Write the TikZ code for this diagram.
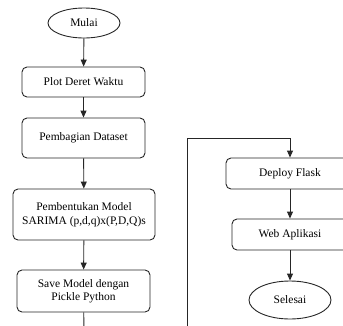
\documentclass[tikz,border=0pt]{standalone}
\usepackage{fontspec}
\setmainfont{Liberation Serif}
\usetikzlibrary{arrows.meta,shapes.geometric}
\begin{document}
\begin{tikzpicture}[x=1pt,y=-1pt,
  flow/.style={draw=black!85,line width=0.9pt,-{Triangle[length=7pt,width=6pt]}},
  link/.style={draw=black!85,line width=0.9pt},
  procbox/.style={draw=black!85,line width=0.9pt,rounded corners=5pt,align=center,
    inner sep=0pt,font=\fontsize{11.5}{13.5}\selectfont},
  terminal/.style={draw=black!85,line width=0.9pt,ellipse,inner sep=0pt,
    font=\fontsize{11.5}{13.5}\selectfont}]
\useasboundingbox (0,0) rectangle (343,325);
\clip (0,0) rectangle (343,325);

% left column
\node[terminal,minimum width=72pt,minimum height=30pt] (mulai) at (84,23) {Mulai};
\node[procbox,minimum width=123pt,minimum height=30pt] (plot) at (83.5,82) {Plot Deret Waktu};
\node[procbox,minimum width=123pt,minimum height=40pt] (bagi) at (83.5,138) {Pembagian Dataset};
\node[procbox,minimum width=142pt,minimum height=51pt] (model) at (84,214.5) {Pembentukan Model\\SARIMA (p,d,q)x(P,D,Q)s};
\node[procbox,minimum width=133pt,minimum height=42pt] (save) at (83.5,291) {Save Model dengan\\Pickle Python};
\coordinate (downL) at (84,335);

% right column
\coordinate (upR) at (187,335);
\coordinate (bend) at (290,138);
\node[procbox,minimum width=128pt,minimum height=31pt] (deploy) at (290,173.5) {Deploy Flask};
\node[procbox,minimum width=116pt,minimum height=31pt] (web) at (290,234.5) {Web Aplikasi};
\node[terminal,minimum width=82pt,minimum height=38pt] (selesai) at (290,300) {Selesai};

% connectors
\draw[flow] (mulai) -- (plot);
\draw[flow] (plot) -- (bagi);
\draw[flow] (bagi) -- (model);
\draw[flow] (model) -- (save);
\draw[link] (save) -- (downL);
\draw[flow] (upR) |- (bend) -- (deploy);
\draw[flow] (deploy) -- (web);
\draw[flow] (web) -- (selesai);
\end{tikzpicture}
\end{document}
